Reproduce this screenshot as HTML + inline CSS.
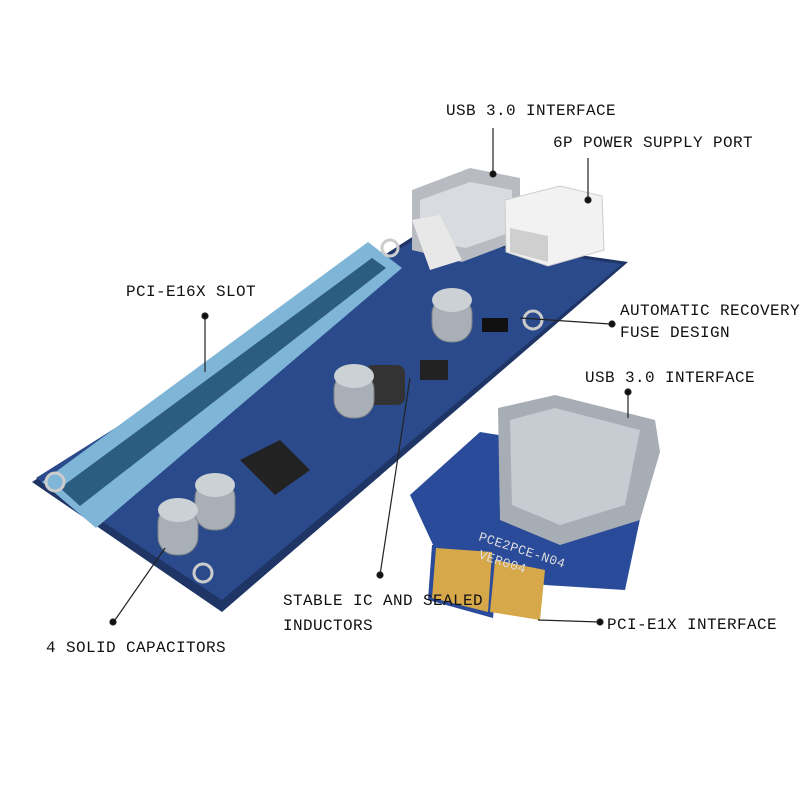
<!DOCTYPE html>
<html><head><meta charset="utf-8"><style>
html,body{margin:0;padding:0;background:#fff;}
svg{display:block}
text{font-family:"Liberation Mono","DejaVu Sans Mono",monospace;font-size:16px;letter-spacing:0.4px;fill:#111;}
</style></head><body>
<svg width="800" height="800" viewBox="0 0 800 800">
<polygon points="32,482 420,232 628,262 222,612" fill="#1f3566"/>
<polygon points="36,478 420,236 622,264 222,600" fill="#2a4a8c"/>
<polygon points="42,482 368,242 402,268 96,528" fill="#7fb6d8"/>
<polygon points="60,488 372,258 386,268 80,506" fill="#2c5c80"/>
<polygon points="412,190 470,168 520,178 520,240 462,262 412,250" fill="#b8bcc2"/>
<polygon points="420,200 470,182 512,190 512,232 466,248 420,240" fill="#d8dbe0"/>
<polygon points="412,220 440,215 462,260 430,270" fill="#e8e8e8"/>
<polygon points="505,200 560,186 602,196 604,250 548,266 506,252" fill="#f2f2f2" stroke="#ccc"/>
<polygon points="510,228 548,236 548,262 510,252" fill="#cfcfcf"/>
<polygon points="240,460 280,440 310,470 275,495" fill="#222"/>
<rect x="365" y="365" width="40" height="40" rx="8" fill="#333"/>
<rect x="420" y="360" width="28" height="20" fill="#222"/>
<rect x="482" y="318" width="26" height="14" fill="#111"/>
<g fill="#a9afb6" stroke="#7b8188">
<rect x="158" y="505" width="40" height="50" rx="18"/>
<rect x="195" y="480" width="40" height="50" rx="18"/>
<rect x="432" y="296" width="40" height="46" rx="18"/>
<rect x="334" y="372" width="40" height="46" rx="18"/>
</g>
<g fill="#ccd1d6"><ellipse cx="178" cy="510" rx="20" ry="12"/><ellipse cx="215" cy="485" rx="20" ry="12"/><ellipse cx="452" cy="300" rx="20" ry="12"/><ellipse cx="354" cy="376" rx="20" ry="12"/></g>
<g fill="none" stroke="#ccc" stroke-width="3"><circle cx="55" cy="482" r="9"/><circle cx="203" cy="573" r="9"/><circle cx="533" cy="320" r="9"/><circle cx="390" cy="248" r="8"/></g>
<polygon points="410,495 480,432 530,440 650,472 625,590 545,585 440,560" fill="#2a4a9a"/>
<polygon points="432,545 500,548 493,618 428,600" fill="#2a4a9a"/>
<g fill="#d6a84a"><polygon points="436,548 492,552 488,612 432,598"/><polygon points="495,560 545,570 540,620 490,612" /></g>
<polygon points="498,408 555,395 655,420 660,452 640,520 560,545 500,520" fill="#a7adb4"/>
<polygon points="510,420 555,408 640,430 625,505 560,525 512,505" fill="#c7ccd2"/>
<text x="478" y="540" transform="rotate(18 478 540)" style="font-size:13px;fill:#ddd">PCE2PCE-N04</text>
<text x="478" y="558" transform="rotate(18 478 558)" style="font-size:13px;fill:#ddd">VER004</text>
<g stroke="#222" stroke-width="1.2" fill="#111">
<line x1="493" y1="128" x2="493" y2="172"/><circle cx="493" cy="174" r="3"/>
<line x1="588" y1="158" x2="588" y2="200"/><circle cx="588" cy="200" r="3"/>
<line x1="205" y1="318" x2="205" y2="372"/><circle cx="205" cy="316" r="3"/>
<line x1="520" y1="318" x2="610" y2="324"/><circle cx="612" cy="324" r="3"/>
<line x1="628" y1="392" x2="628" y2="418"/><circle cx="628" cy="392" r="3"/>
<line x1="410" y1="378" x2="380" y2="575"/><circle cx="380" cy="575" r="3"/>
<line x1="165" y1="548" x2="115" y2="620"/><circle cx="113" cy="622" r="3"/>
<line x1="538" y1="620" x2="600" y2="622"/><circle cx="600" cy="622" r="3"/>
</g>
<text x="446" y="115">USB 3.0 INTERFACE</text>
<text x="553" y="147">6P POWER SUPPLY PORT</text>
<text x="126" y="296">PCI-E16X SLOT</text>
<text x="620" y="315">AUTOMATIC RECOVERY</text>
<text x="620" y="337">FUSE DESIGN</text>
<text x="585" y="382">USB 3.0 INTERFACE</text>
<text x="283" y="605">STABLE IC AND SEALED</text>
<text x="283" y="630">INDUCTORS</text>
<text x="46" y="652">4 SOLID CAPACITORS</text>
<text x="607" y="629">PCI-E1X INTERFACE</text>
</svg>
</body></html>
